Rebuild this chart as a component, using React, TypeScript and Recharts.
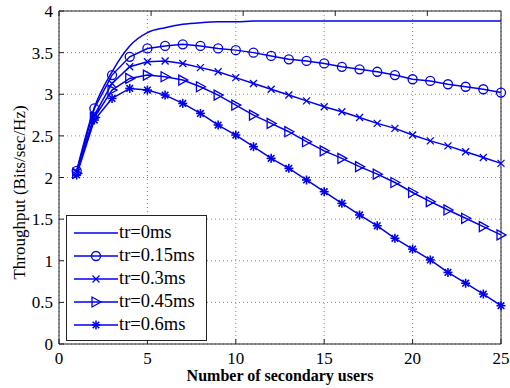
import { LineChart, Line, XAxis, YAxis, CartesianGrid, Legend } from "recharts";

const users = [1, 2, 3, 4, 5, 6, 7, 8, 9, 10, 11, 12, 13, 14, 15, 16, 17, 18, 19, 20, 21, 22, 23, 24, 25];
const tr0 = [2.08, 2.84, 3.27, 3.58, 3.74, 3.8, 3.84, 3.86, 3.87, 3.87, 3.88, 3.88, 3.88, 3.88, 3.88, 3.88, 3.88, 3.88, 3.88, 3.88, 3.88, 3.88, 3.88, 3.88, 3.88];
const tr015 = [2.08, 2.83, 3.23, 3.45, 3.55, 3.58, 3.6, 3.58, 3.55, 3.53, 3.5, 3.46, 3.42, 3.4, 3.37, 3.33, 3.3, 3.27, 3.23, 3.18, 3.16, 3.12, 3.09, 3.06, 3.02];
const tr03 = [2.06, 2.75, 3.13, 3.33, 3.39, 3.4, 3.37, 3.32, 3.27, 3.2, 3.13, 3.06, 2.99, 2.92, 2.85, 2.79, 2.72, 2.65, 2.59, 2.51, 2.44, 2.38, 2.31, 2.24, 2.17];
const tr045 = [2.05, 2.72, 3.05, 3.19, 3.23, 3.21, 3.17, 3.09, 2.99, 2.87, 2.75, 2.65, 2.55, 2.43, 2.32, 2.23, 2.13, 2.04, 1.94, 1.82, 1.71, 1.61, 1.51, 1.41, 1.31];
const tr06 = [2.03, 2.69, 2.95, 3.07, 3.05, 2.99, 2.89, 2.77, 2.63, 2.51, 2.37, 2.23, 2.11, 1.97, 1.83, 1.69, 1.55, 1.42, 1.27, 1.14, 1.01, 0.86, 0.73, 0.6, 0.46];

const xTicks = [0, 5, 10, 15, 20, 25];
const yTicks = [0, 0.5, 1, 1.5, 2, 2.5, 3, 3.5, 4];

const seriesDefs = [
  { key: "tr0", name: "tr=0ms", marker: "none" },
  { key: "tr015", name: "tr=0.15ms", marker: "circle" },
  { key: "tr03", name: "tr=0.3ms", marker: "cross" },
  { key: "tr045", name: "tr=0.45ms", marker: "triangle" },
  { key: "tr06", name: "tr=0.6ms", marker: "star" },
];

const data = users.map((u, i) => ({
  users: u,
  tr0: tr0[i],
  tr015: tr015[i],
  tr03: tr03[i],
  tr045: tr045[i],
  tr06: tr06[i],
}));

const BLUE = "#0000ee";
const FONT = "'Liberation Serif', 'Times New Roman', serif";

function Marker({ shape, cx, cy }: { shape: string; cx: number; cy: number }) {
  const p = { stroke: BLUE, strokeWidth: 1.3, fill: "none" };
  if (shape === "circle") return <circle cx={cx} cy={cy} r={4.5} {...p} />;
  if (shape === "cross")
    return (
      <g {...p}>
        <line x1={cx - 3.5} y1={cy - 3.5} x2={cx + 3.5} y2={cy + 3.5} />
        <line x1={cx - 3.5} y1={cy + 3.5} x2={cx + 3.5} y2={cy - 3.5} />
      </g>
    );
  if (shape === "triangle")
    return <polygon points={`${cx - 4},${cy - 5} ${cx - 4},${cy + 5} ${cx + 5},${cy}`} {...p} />;
  if (shape === "star")
    return (
      <g {...p} strokeWidth={1.6}>
        <line x1={cx - 4.5} y1={cy} x2={cx + 4.5} y2={cy} />
        <line x1={cx} y1={cy - 4.5} x2={cx} y2={cy + 4.5} />
        <line x1={cx - 3.3} y1={cy - 3.3} x2={cx + 3.3} y2={cy + 3.3} />
        <line x1={cx - 3.3} y1={cy + 3.3} x2={cx + 3.3} y2={cy - 3.3} />
      </g>
    );
  return null;
}

const dotFor = (shape: string) => (props: any) => {
  const { cx, cy, index } = props;
  return <Marker key={`${shape}-${index}`} shape={shape} cx={cx} cy={cy} />;
};

function LegendBox() {
  return (
    <div
      style={{
        border: "1px solid #222",
        background: "#fff",
        width: 139,
        padding: "5px 0 4px 0",
        fontFamily: FONT,
        fontSize: 18.5,
        color: "#000",
      }}
    >
      {seriesDefs.map((s) => (
        <div key={s.key} style={{ display: "flex", alignItems: "center", height: 23 }}>
          <svg width={52} height={14} style={{ flex: "none" }}>
            <line x1={7} y1={7} x2={51} y2={7} stroke={BLUE} strokeWidth={1.5} />
            <Marker shape={s.marker} cx={29} cy={7} />
          </svg>
          <span style={{ lineHeight: "23px", whiteSpace: "nowrap" }}>{s.name}</span>
        </div>
      ))}
    </div>
  );
}

export default function App() {
  return (
    <div style={{ position: "absolute", left: 0, top: 0, background: "#fff", fontFamily: FONT }}>
      <style>{`body{margin:0;background:#fff}`}</style>
      <LineChart
        width={510}
        height={388}
        data={data}
        margin={{ top: 1, right: 1, bottom: 0, left: 0 }}
        style={{ fontFamily: FONT }}
      >
        <CartesianGrid stroke="#8a8a8a" strokeDasharray="1 3" />
        <XAxis
          dataKey="users"
          type="number"
          domain={[0, 25]}
          ticks={xTicks}
          height={44}
          axisLine={{ stroke: "#222" }}
          tickLine={{ stroke: "#222" }}
          tickSize={-5}
          tickMargin={13}
          tick={{ fill: "#000", fontSize: 17, fontFamily: FONT }}
          label={{
            value: "Number of secondary users",
            position: "center",
            dy: 9,
            style: { fill: "#000", fontSize: 16, fontWeight: "bold", fontFamily: FONT },
          }}
        />
        <XAxis
          xAxisId="top"
          orientation="top"
          type="number"
          domain={[0, 25]}
          ticks={xTicks}
          height={10}
          axisLine={{ stroke: "#222" }}
          tickLine={{ stroke: "#222" }}
          tickSize={-5}
          tickFormatter={() => ""}
        />
        <YAxis
          type="number"
          domain={[0, 4]}
          ticks={yTicks}
          width={59}
          axisLine={{ stroke: "#222" }}
          tickLine={{ stroke: "#222" }}
          tickSize={-5}
          tickMargin={11}
          tick={{ fill: "#000", fontSize: 17, fontFamily: FONT }}
          label={{
            value: "Throughput (Bits/sec/Hz)",
            angle: -90,
            position: "center",
            dx: -11,
            dy: 15,
            style: { fill: "#000", fontSize: 17, fontFamily: FONT, textAnchor: "middle" },
          }}
        />
        <YAxis
          yAxisId="right"
          orientation="right"
          type="number"
          domain={[0, 4]}
          ticks={yTicks}
          width={8}
          axisLine={{ stroke: "#222" }}
          tickLine={{ stroke: "#222" }}
          tickSize={-5}
          tickFormatter={() => ""}
        />
        <Legend
          layout="vertical"
          align="center"
          verticalAlign="middle"
          content={() => <LegendBox />}
          wrapperStyle={{ position: "absolute", left: 66, top: 215, width: "auto", bottom: "auto", right: "auto" }}
        />
        {seriesDefs.map((s) => (
          <Line
            key={s.key}
            dataKey={s.key}
            name={s.name}
            type={s.marker === "none" ? "monotone" : "linear"}
            stroke={BLUE}
            strokeWidth={1.5}
            dot={s.marker === "none" ? false : dotFor(s.marker)}
            activeDot={false}
            isAnimationActive={false}
          />
        ))}
      </LineChart>
    </div>
  );
}
